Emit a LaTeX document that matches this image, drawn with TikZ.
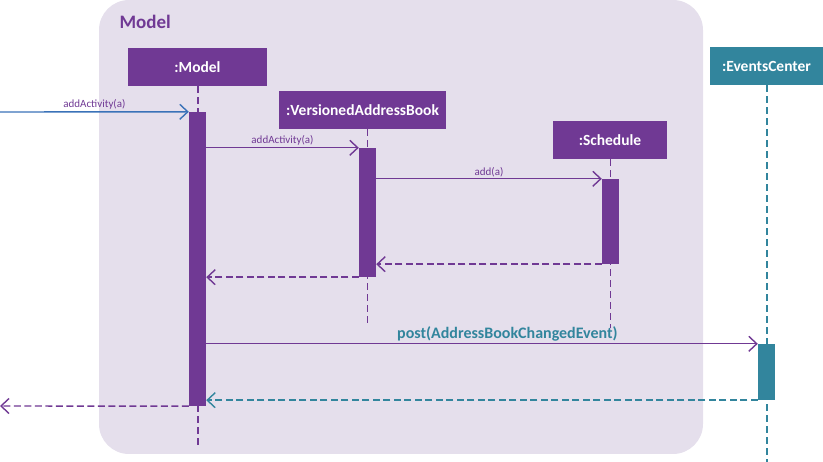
\documentclass[tikz,border=0pt]{standalone}
\usepackage{fontspec}
\setmainfont{Carlito}
\usetikzlibrary{arrows.meta,positioning}
\definecolor{umlpurple}{RGB}{112,57,148}
\definecolor{umlteal}{RGB}{50,133,157}
\definecolor{umlblue}{RGB}{58,114,184}
\definecolor{framefill}{RGB}{229,223,236}

\tikzset{
  objbox/.style={fill=#1, text=white, font=\bfseries\fontsize{15.5}{18}\selectfont,
    minimum height=38pt, inner sep=0pt},
  actbar/.style={fill=#1, minimum width=17pt, inner sep=0pt},
  lifeline/.style={draw=#1, line width=1.5pt, dash pattern=on 7pt off 4pt},
  call/.style={-{Straight Barb[length=8pt,width=15pt]}, line width=1.4pt, umlpurple},
  reply/.style={call, dash pattern=on 7pt off 3.5pt},
  msglabel/.style={font=\fontsize{11}{13}\selectfont, text=umlpurple, above, inner sep=1.5pt}
}

\begin{document}
\begin{tikzpicture}[x=1pt, y=-1pt]
\useasboundingbox (0,0) rectangle (823,462);
% component frame
\fill[framefill, rounded corners=30pt] (99,0) rectangle (703,454);
\node[anchor=west, text=umlpurple, font=\bfseries\fontsize{19}{22}\selectfont] (frameLabel) at (116,22) {Model};

% participants
\node[objbox=umlpurple, minimum width=139pt] (model) at (197.5,67) {:Model};
\node[objbox=umlpurple, minimum width=167pt] (vab) at (362.5,110) {:VersionedAddressBook};
\node[objbox=umlpurple, minimum width=114pt] (sched) at (610,140) {:Schedule};
\node[objbox=umlteal, minimum width=113pt] (events) at (766.5,66) {:EventsCenter};

% lifelines
\coordinate (modelEnd) at (198,448);
\coordinate (vabEnd) at (367.5,327);
\coordinate (schedEnd) at (610.5,328);
\coordinate (eventsEnd) at (767,462);
\draw[lifeline=umlpurple] (model.south -| modelEnd) -- (modelEnd);
\draw[lifeline=umlpurple] (vab.south -| vabEnd) -- (vabEnd);
\draw[lifeline=umlpurple] (sched.south -| schedEnd) -- (schedEnd);
\draw[lifeline=umlteal] (events.south -| eventsEnd) -- (eventsEnd);

% activations
\node[actbar=umlpurple, minimum height=294pt] (actModel) at (197.5,259) {};
\node[actbar=umlpurple, minimum height=129pt] (actVAB) at (367.5,212.5) {};
\node[actbar=umlpurple, minimum height=85pt] (actSched) at (610.5,221.5) {};
\node[actbar=umlteal, minimum height=56pt] (actEvents) at (766.5,372) {};

% messages
\coordinate (caller) at (0,112);
\coordinate (callerBack) at (0,406);
\draw[call, umlblue] (caller) -- (actModel.north west)
  node[msglabel, midway] {addActivity(a)};
\draw[call] (actModel.east |- actVAB.north) -- (actVAB.north west)
  node[msglabel, midway] {addActivity(a)};
\draw[call] (actVAB.east |- actSched.north) -- (actSched.north west)
  node[msglabel, midway] {add(a)};
\draw[reply] (actSched.south west) -- (actSched.south west -| actVAB.east);
\draw[reply] (actVAB.south west) -- (actVAB.south west -| actModel.east);
\draw[call] (actModel.east |- actEvents.north) -- (actEvents.north west)
  node[pos=0.546, above, inner sep=2pt, text=umlteal, font=\bfseries\fontsize{16}{19}\selectfont] {post(AddressBookChangedEvent)};
\draw[reply, umlteal] (actEvents.south west) -- (actEvents.south west -| actModel.east);
\draw[reply] (actModel.south west) -- (callerBack);
\end{tikzpicture}
\end{document}
